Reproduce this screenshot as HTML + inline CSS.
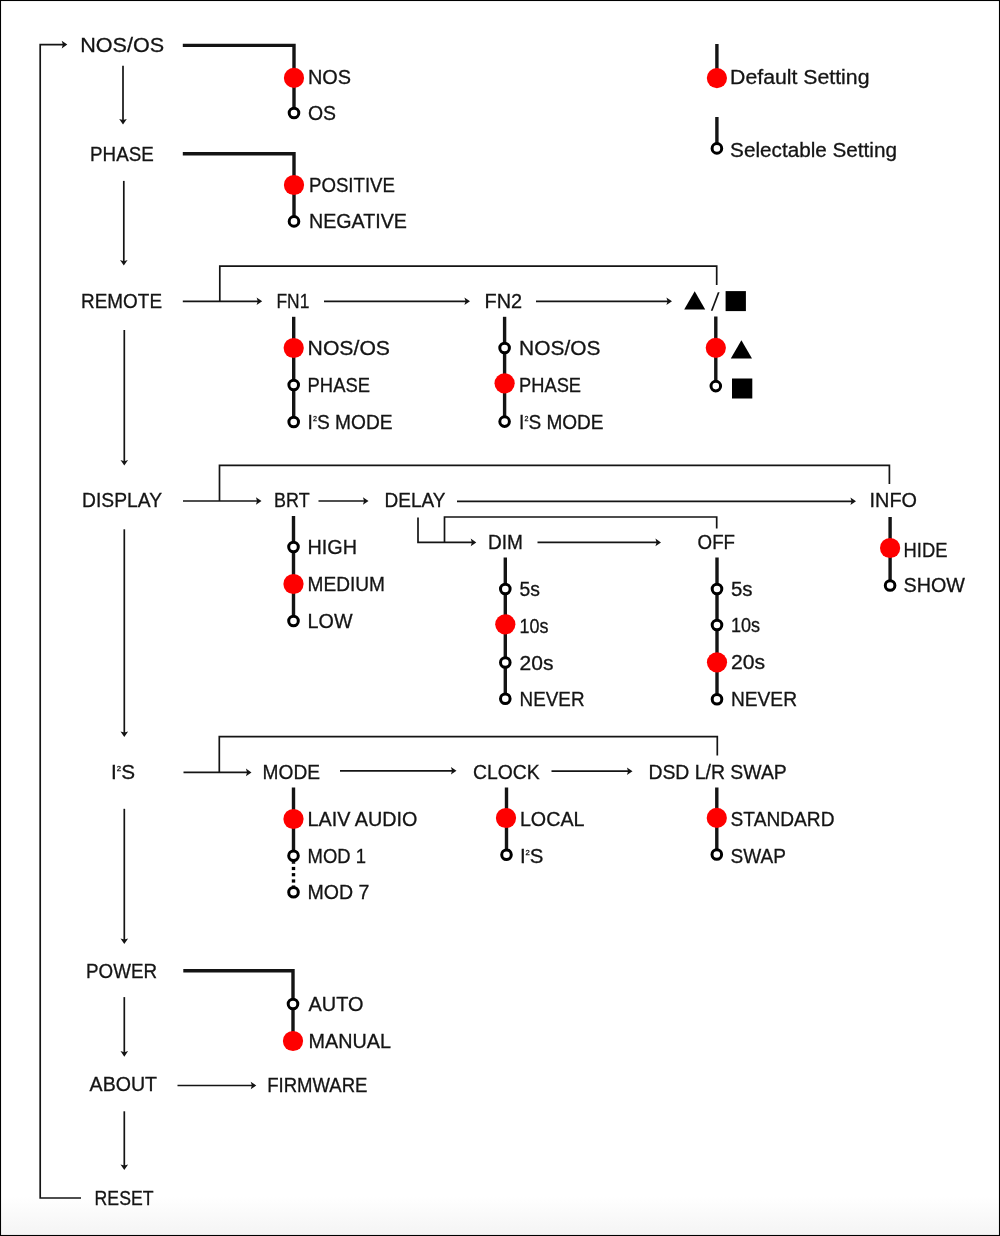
<!DOCTYPE html>
<html><head><meta charset="utf-8"><title>Menu map</title>
<style>
html,body{margin:0;padding:0;background:#fff;}
body{width:1000px;height:1236px;overflow:hidden;}
svg{display:block;will-change:transform;font-family:"Liberation Sans",sans-serif;fill:#141414;}
text{stroke:#141414;stroke-width:0.3px;}
</style></head><body>
<svg width="1000" height="1236" viewBox="0 0 1000 1236">
<defs><linearGradient id="bg" x1="0" y1="0" x2="0" y2="1">
<stop offset="0" stop-color="#fff"/><stop offset="0.968" stop-color="#fff"/><stop offset="1" stop-color="#f4f4f4"/>
</linearGradient></defs>
<rect x="0" y="0" width="1000" height="1236" fill="url(#bg)"/>
<rect x="0.5" y="0.5" width="999" height="1235" fill="none" stroke="#000" stroke-width="1.1"/>
<path d="M81,1198 L40.2,1198 L40.2,44.6 L64,44.6" fill="none" stroke="#141414" stroke-width="1.7" stroke-linejoin="miter"/>
<path d="M67.3,44.6 L61.699999999999996,40.800000000000004 L62.9,44.6 L61.699999999999996,48.4Z" fill="#141414"/>
<text x="80.2" y="51.56" font-size="20" textLength="83.9" lengthAdjust="spacingAndGlyphs">NOS/OS</text>
<text x="90.1" y="160.76" font-size="20" textLength="63.6" lengthAdjust="spacingAndGlyphs">PHASE</text>
<text x="81.1" y="308.16" font-size="20" textLength="80.9" lengthAdjust="spacingAndGlyphs">REMOTE</text>
<text x="82.1" y="507.16" font-size="20" textLength="79.9" lengthAdjust="spacingAndGlyphs">DISPLAY</text>
<text x="111.1" y="779.16" font-size="20" textLength="23.9" lengthAdjust="spacingAndGlyphs">I<tspan font-size="7.5" dy="-8">2</tspan><tspan dy="8">S</tspan></text>
<text x="86.1" y="977.66" font-size="20" textLength="70.9" lengthAdjust="spacingAndGlyphs">POWER</text>
<text x="89.6" y="1091.16" font-size="20" textLength="67.4" lengthAdjust="spacingAndGlyphs">ABOUT</text>
<text x="94.6" y="1204.66" font-size="20" textLength="58.9" lengthAdjust="spacingAndGlyphs">RESET</text>
<path d="M123.0,65.8 L123.0,121.5" fill="none" stroke="#141414" stroke-width="1.7" stroke-linejoin="miter"/>
<path d="M123.0,124.5 L119.2,118.9 L123.0,120.10000000000001 L126.8,118.9Z" fill="#141414"/>
<path d="M123.8,180.9 L123.8,262.6" fill="none" stroke="#141414" stroke-width="1.7" stroke-linejoin="miter"/>
<path d="M123.8,265.6 L120.0,260.0 L123.8,261.2 L127.6,260.0Z" fill="#141414"/>
<path d="M124.3,330 L124.3,462.6" fill="none" stroke="#141414" stroke-width="1.7" stroke-linejoin="miter"/>
<path d="M124.3,465.6 L120.5,460.0 L124.3,461.2 L128.1,460.0Z" fill="#141414"/>
<path d="M124.3,529.3 L124.3,734" fill="none" stroke="#141414" stroke-width="1.7" stroke-linejoin="miter"/>
<path d="M124.3,737 L120.5,731.4 L124.3,732.6 L128.1,731.4Z" fill="#141414"/>
<path d="M124.3,808.8 L124.3,941" fill="none" stroke="#141414" stroke-width="1.7" stroke-linejoin="miter"/>
<path d="M124.3,944 L120.5,938.4 L124.3,939.6 L128.1,938.4Z" fill="#141414"/>
<path d="M124.3,997.1 L124.3,1053.7" fill="none" stroke="#141414" stroke-width="1.7" stroke-linejoin="miter"/>
<path d="M124.3,1056.7 L120.5,1051.1000000000001 L124.3,1052.3000000000002 L128.1,1051.1000000000001Z" fill="#141414"/>
<path d="M124.3,1111.3 L124.3,1167" fill="none" stroke="#141414" stroke-width="1.7" stroke-linejoin="miter"/>
<path d="M124.3,1170 L120.5,1164.4 L124.3,1165.6000000000001 L128.1,1164.4Z" fill="#141414"/>
<path d="M182.8,45.4 L294,45.4 L294,113" fill="none" stroke="#141414" stroke-width="3.4" stroke-linejoin="miter"/>
<circle cx="294" cy="77.9" r="10.1" fill="#fe0000"/>
<circle cx="294" cy="113" r="4.8" fill="#fff" stroke="#000" stroke-width="3"/>
<text x="307.9" y="83.66" font-size="20" textLength="43.1" lengthAdjust="spacingAndGlyphs">NOS</text>
<text x="307.9" y="120.46" font-size="20" textLength="28.1" lengthAdjust="spacingAndGlyphs">OS</text>
<path d="M182.8,153.7 L294,153.7 L294,221" fill="none" stroke="#141414" stroke-width="3.4" stroke-linejoin="miter"/>
<circle cx="294" cy="185.0" r="10.1" fill="#fe0000"/>
<circle cx="294" cy="221.4" r="4.8" fill="#fff" stroke="#000" stroke-width="3"/>
<text x="309.0" y="191.96" font-size="20" textLength="86.0" lengthAdjust="spacingAndGlyphs">POSITIVE</text>
<text x="309.0" y="228.46" font-size="20" textLength="98.0" lengthAdjust="spacingAndGlyphs">NEGATIVE</text>
<path d="M716.9,44 L716.9,77" fill="none" stroke="#141414" stroke-width="3.4" stroke-linejoin="miter"/>
<circle cx="716.9" cy="78.1" r="10.1" fill="#fe0000"/>
<text x="730.1" y="84.16" font-size="20" textLength="139.4" lengthAdjust="spacingAndGlyphs">Default Setting</text>
<path d="M716.9,117 L716.9,149" fill="none" stroke="#141414" stroke-width="3.4" stroke-linejoin="miter"/>
<circle cx="716.9" cy="148.4" r="4.8" fill="#fff" stroke="#000" stroke-width="3"/>
<text x="730.1" y="156.66" font-size="20" textLength="166.9" lengthAdjust="spacingAndGlyphs">Selectable Setting</text>
<path d="M182.8,301.3 L259.2,301.3" fill="none" stroke="#141414" stroke-width="1.7" stroke-linejoin="miter"/>
<path d="M262.2,301.3 L256.59999999999997,297.5 L257.79999999999995,301.3 L256.59999999999997,305.1Z" fill="#141414"/>
<path d="M219.8,301.3 L219.8,266.2 L716.7,266.2 L716.7,285" fill="none" stroke="#141414" stroke-width="1.7" stroke-linejoin="miter"/>
<text x="276.5" y="308.26" font-size="20" textLength="32.8" lengthAdjust="spacingAndGlyphs">FN1</text>
<path d="M324,301.3 L467,301.3" fill="none" stroke="#141414" stroke-width="1.7" stroke-linejoin="miter"/>
<path d="M470,301.3 L464.4,297.5 L465.59999999999997,301.3 L464.4,305.1Z" fill="#141414"/>
<text x="484.6" y="308.26" font-size="20" textLength="37.6" lengthAdjust="spacingAndGlyphs">FN2</text>
<path d="M536,301.3 L669,301.3" fill="none" stroke="#141414" stroke-width="1.7" stroke-linejoin="miter"/>
<path d="M672,301.3 L666.4,297.5 L667.6,301.3 L666.4,305.1Z" fill="#141414"/>
<path d="M684.2,309.5 L694.7,291.2 L705.2,309.5Z" fill="#000"/>
<path d="M710.8,310.8 L717.8,292.3 L719.6,292.3 L712.6,310.8Z" fill="#141414"/>
<rect x="725.6" y="291.1" width="20.3" height="20" fill="#000"/>
<path d="M293.7,316.8 L293.7,422" fill="none" stroke="#141414" stroke-width="3.4" stroke-linejoin="miter"/>
<circle cx="293.7" cy="348" r="10.1" fill="#fe0000"/>
<text x="307.6" y="355.16" font-size="20" textLength="82.4" lengthAdjust="spacingAndGlyphs">NOS/OS</text>
<circle cx="293.7" cy="385" r="4.8" fill="#fff" stroke="#000" stroke-width="3"/>
<text x="307.6" y="392.16" font-size="20" textLength="62.4" lengthAdjust="spacingAndGlyphs">PHASE</text>
<circle cx="293.7" cy="422" r="4.8" fill="#fff" stroke="#000" stroke-width="3"/>
<text x="307.6" y="429.16" font-size="20" textLength="84.9" lengthAdjust="spacingAndGlyphs">I<tspan font-size="7.5" dy="-8">2</tspan><tspan dy="8">S MODE</tspan></text>
<path d="M504.6,316.8 L504.6,421.6" fill="none" stroke="#141414" stroke-width="3.4" stroke-linejoin="miter"/>
<circle cx="504.6" cy="348" r="4.8" fill="#fff" stroke="#000" stroke-width="3"/>
<text x="519.1" y="355.16" font-size="20" textLength="81.3" lengthAdjust="spacingAndGlyphs">NOS/OS</text>
<circle cx="504.6" cy="383.3" r="10.1" fill="#fe0000"/>
<text x="519.1" y="391.96" font-size="20" textLength="61.9" lengthAdjust="spacingAndGlyphs">PHASE</text>
<circle cx="504.6" cy="421.6" r="4.8" fill="#fff" stroke="#000" stroke-width="3"/>
<text x="519.1" y="429.16" font-size="20" textLength="84.5" lengthAdjust="spacingAndGlyphs">I<tspan font-size="7.5" dy="-8">2</tspan><tspan dy="8">S MODE</tspan></text>
<path d="M715.8,316.5 L715.8,386.1" fill="none" stroke="#141414" stroke-width="3.4" stroke-linejoin="miter"/>
<circle cx="715.8" cy="347.8" r="10.1" fill="#fe0000"/>
<circle cx="715.8" cy="386.1" r="4.8" fill="#fff" stroke="#000" stroke-width="3"/>
<path d="M730.8,358.5 L741.4,340.3 L752,358.5Z" fill="#000"/>
<rect x="732" y="378.5" width="20.3" height="20" fill="#000"/>
<path d="M183,501.0 L258.5,501.0" fill="none" stroke="#141414" stroke-width="1.7" stroke-linejoin="miter"/>
<path d="M261.5,501.0 L255.9,497.2 L257.1,501.0 L255.9,504.8Z" fill="#141414"/>
<path d="M219.5,501.0 L219.5,465.4 L889.4,465.4 L889.4,484" fill="none" stroke="#141414" stroke-width="1.7" stroke-linejoin="miter"/>
<text x="274.1" y="507.16" font-size="20" textLength="35.5" lengthAdjust="spacingAndGlyphs">BRT</text>
<path d="M318.5,501.0 L365.5,501.0" fill="none" stroke="#141414" stroke-width="1.7" stroke-linejoin="miter"/>
<path d="M368.5,501.0 L362.9,497.2 L364.09999999999997,501.0 L362.9,504.8Z" fill="#141414"/>
<text x="384.6" y="507.16" font-size="20" textLength="60.9" lengthAdjust="spacingAndGlyphs">DELAY</text>
<path d="M457,501.3 L853,501.3" fill="none" stroke="#141414" stroke-width="1.7" stroke-linejoin="miter"/>
<path d="M856,501.3 L850.4,497.5 L851.6,501.3 L850.4,505.1Z" fill="#141414"/>
<text x="869.6" y="507.16" font-size="20" textLength="47.4" lengthAdjust="spacingAndGlyphs">INFO</text>
<path d="M293.5,516 L293.5,621" fill="none" stroke="#141414" stroke-width="3.4" stroke-linejoin="miter"/>
<circle cx="293.5" cy="547" r="4.8" fill="#fff" stroke="#000" stroke-width="3"/>
<text x="307.6" y="554.16" font-size="20" textLength="49.4" lengthAdjust="spacingAndGlyphs">HIGH</text>
<circle cx="293.5" cy="584" r="10.1" fill="#fe0000"/>
<text x="307.6" y="591.16" font-size="20" textLength="77.4" lengthAdjust="spacingAndGlyphs">MEDIUM</text>
<circle cx="293.5" cy="621" r="4.8" fill="#fff" stroke="#000" stroke-width="3"/>
<text x="307.6" y="628.16" font-size="20" textLength="44.9" lengthAdjust="spacingAndGlyphs">LOW</text>
<path d="M418,517.5 L418,542.4 L473,542.4" fill="none" stroke="#141414" stroke-width="1.7" stroke-linejoin="miter"/>
<path d="M476.3,542.4 L470.7,538.6 L471.9,542.4 L470.7,546.1999999999999Z" fill="#141414"/>
<path d="M444.5,542.4 L444.5,517 L716.7,517 L716.7,528.5" fill="none" stroke="#141414" stroke-width="1.7" stroke-linejoin="miter"/>
<text x="487.9" y="549.16" font-size="20" textLength="34.9" lengthAdjust="spacingAndGlyphs">DIM</text>
<path d="M537.5,542.4 L658,542.4" fill="none" stroke="#141414" stroke-width="1.7" stroke-linejoin="miter"/>
<path d="M661,542.4 L655.4,538.6 L656.6,542.4 L655.4,546.1999999999999Z" fill="#141414"/>
<text x="697.6" y="549.16" font-size="20" textLength="37.4" lengthAdjust="spacingAndGlyphs">OFF</text>
<path d="M505.3,557.5 L505.3,698.7" fill="none" stroke="#141414" stroke-width="3.4" stroke-linejoin="miter"/>
<circle cx="505.3" cy="589" r="4.8" fill="#fff" stroke="#000" stroke-width="3"/>
<text x="519.6" y="596.36" font-size="20" textLength="20.4" lengthAdjust="spacingAndGlyphs">5s</text>
<circle cx="505.3" cy="624.3" r="10.1" fill="#fe0000"/>
<text x="519.6" y="632.96" font-size="20" textLength="28.9" lengthAdjust="spacingAndGlyphs">10s</text>
<circle cx="505.3" cy="662.5" r="4.8" fill="#fff" stroke="#000" stroke-width="3"/>
<text x="519.6" y="669.96" font-size="20" textLength="33.9" lengthAdjust="spacingAndGlyphs">20s</text>
<circle cx="505.3" cy="698.7" r="4.8" fill="#fff" stroke="#000" stroke-width="3"/>
<text x="519.6" y="706.26" font-size="20" textLength="64.9" lengthAdjust="spacingAndGlyphs">NEVER</text>
<path d="M717,557.5 L717,699.2" fill="none" stroke="#141414" stroke-width="3.4" stroke-linejoin="miter"/>
<circle cx="717" cy="589" r="4.8" fill="#fff" stroke="#000" stroke-width="3"/>
<text x="730.9" y="596.16" font-size="20" textLength="21.6" lengthAdjust="spacingAndGlyphs">5s</text>
<circle cx="717" cy="625" r="4.8" fill="#fff" stroke="#000" stroke-width="3"/>
<text x="730.9" y="632.16" font-size="20" textLength="29.1" lengthAdjust="spacingAndGlyphs">10s</text>
<circle cx="717" cy="662.3" r="10.1" fill="#fe0000"/>
<text x="730.9" y="669.46" font-size="20" textLength="34.1" lengthAdjust="spacingAndGlyphs">20s</text>
<circle cx="717" cy="699.2" r="4.8" fill="#fff" stroke="#000" stroke-width="3"/>
<text x="730.9" y="706.36" font-size="20" textLength="66.1" lengthAdjust="spacingAndGlyphs">NEVER</text>
<path d="M890.1,517 L890.1,585.5" fill="none" stroke="#141414" stroke-width="3.4" stroke-linejoin="miter"/>
<circle cx="890.1" cy="548" r="10.1" fill="#fe0000"/>
<text x="903.6" y="556.56" font-size="20" textLength="43.9" lengthAdjust="spacingAndGlyphs">HIDE</text>
<circle cx="890.1" cy="585.5" r="4.8" fill="#fff" stroke="#000" stroke-width="3"/>
<text x="903.6" y="592.26" font-size="20" textLength="61.4" lengthAdjust="spacingAndGlyphs">SHOW</text>
<path d="M183.5,772.4 L248.5,772.4" fill="none" stroke="#141414" stroke-width="1.7" stroke-linejoin="miter"/>
<path d="M251.5,772.4 L245.9,768.6 L247.1,772.4 L245.9,776.1999999999999Z" fill="#141414"/>
<path d="M219.3,772.4 L219.3,736.7 L717.3,736.7 L717.3,755.5" fill="none" stroke="#141414" stroke-width="1.7" stroke-linejoin="miter"/>
<text x="262.6" y="779.16" font-size="20" textLength="57.4" lengthAdjust="spacingAndGlyphs">MODE</text>
<path d="M340,770.8 L453.5,770.8" fill="none" stroke="#141414" stroke-width="1.7" stroke-linejoin="miter"/>
<path d="M456.5,770.8 L450.9,767.0 L452.09999999999997,770.8 L450.9,774.5999999999999Z" fill="#141414"/>
<text x="473.0" y="779.16" font-size="20" textLength="66.6" lengthAdjust="spacingAndGlyphs">CLOCK</text>
<path d="M551.5,771.2 L629.5,771.2" fill="none" stroke="#141414" stroke-width="1.7" stroke-linejoin="miter"/>
<path d="M632.5,771.2 L626.9,767.4000000000001 L628.1,771.2 L626.9,775.0Z" fill="#141414"/>
<text x="648.4" y="779.16" font-size="20" textLength="138.4" lengthAdjust="spacingAndGlyphs">DSD L/R SWAP</text>
<path d="M293.5,787.5 L293.5,855.8" fill="none" stroke="#141414" stroke-width="3.4" stroke-linejoin="miter"/>
<path d="M293.5,855.8 L293.5,863.8" fill="none" stroke="#141414" stroke-width="3.4" stroke-linejoin="miter"/>
<rect x="291.8" y="866.9" width="3.4" height="3.2" fill="#000"/>
<rect x="291.8" y="873.1" width="3.4" height="3.2" fill="#000"/>
<rect x="291.8" y="879.4" width="3.4" height="3.2" fill="#000"/>
<path d="M293.5,885.4 L293.5,892.3" fill="none" stroke="#141414" stroke-width="3.4" stroke-linejoin="miter"/>
<circle cx="293.5" cy="819" r="10.1" fill="#fe0000"/>
<text x="307.6" y="826.16" font-size="20" textLength="109.9" lengthAdjust="spacingAndGlyphs">LAIV AUDIO</text>
<circle cx="293.5" cy="855.8" r="4.8" fill="#fff" stroke="#000" stroke-width="3"/>
<text x="307.6" y="862.96" font-size="20" textLength="58.4" lengthAdjust="spacingAndGlyphs">MOD 1</text>
<circle cx="293.5" cy="892.3" r="4.8" fill="#fff" stroke="#000" stroke-width="3"/>
<text x="307.6" y="899.46" font-size="20" textLength="61.9" lengthAdjust="spacingAndGlyphs">MOD 7</text>
<path d="M506.5,787.5 L506.5,854.7" fill="none" stroke="#141414" stroke-width="3.4" stroke-linejoin="miter"/>
<circle cx="506.0" cy="818" r="10.1" fill="#fe0000"/>
<text x="519.9" y="826.16" font-size="20" textLength="64.6" lengthAdjust="spacingAndGlyphs">LOCAL</text>
<circle cx="506.5" cy="854.7" r="4.8" fill="#fff" stroke="#000" stroke-width="3"/>
<text x="519.9" y="862.86" font-size="20" textLength="23.6" lengthAdjust="spacingAndGlyphs">I<tspan font-size="7.5" dy="-8">2</tspan><tspan dy="8">S</tspan></text>
<path d="M716.8,787.5 L716.8,854.5" fill="none" stroke="#141414" stroke-width="3.4" stroke-linejoin="miter"/>
<circle cx="716.8" cy="817.9" r="10.1" fill="#fe0000"/>
<text x="730.6" y="826.16" font-size="20" textLength="103.9" lengthAdjust="spacingAndGlyphs">STANDARD</text>
<circle cx="716.8" cy="854.5" r="4.8" fill="#fff" stroke="#000" stroke-width="3"/>
<text x="730.6" y="862.66" font-size="20" textLength="55.4" lengthAdjust="spacingAndGlyphs">SWAP</text>
<path d="M183.3,970.8 L293,970.8 L293,1041" fill="none" stroke="#141414" stroke-width="3.4" stroke-linejoin="miter"/>
<circle cx="293" cy="1004" r="4.8" fill="#fff" stroke="#000" stroke-width="3"/>
<circle cx="293" cy="1041" r="10.1" fill="#fe0000"/>
<text x="308.6" y="1011.16" font-size="20" textLength="54.9" lengthAdjust="spacingAndGlyphs">AUTO</text>
<text x="308.6" y="1048.16" font-size="20" textLength="82.4" lengthAdjust="spacingAndGlyphs">MANUAL</text>
<path d="M177.5,1085.5 L253.3,1085.5" fill="none" stroke="#141414" stroke-width="1.7" stroke-linejoin="miter"/>
<path d="M256.3,1085.5 L250.70000000000002,1081.7 L251.9,1085.5 L250.70000000000002,1089.3Z" fill="#141414"/>
<text x="267.2" y="1092.16" font-size="20" textLength="100.3" lengthAdjust="spacingAndGlyphs">FIRMWARE</text>
</svg>
</body></html>
